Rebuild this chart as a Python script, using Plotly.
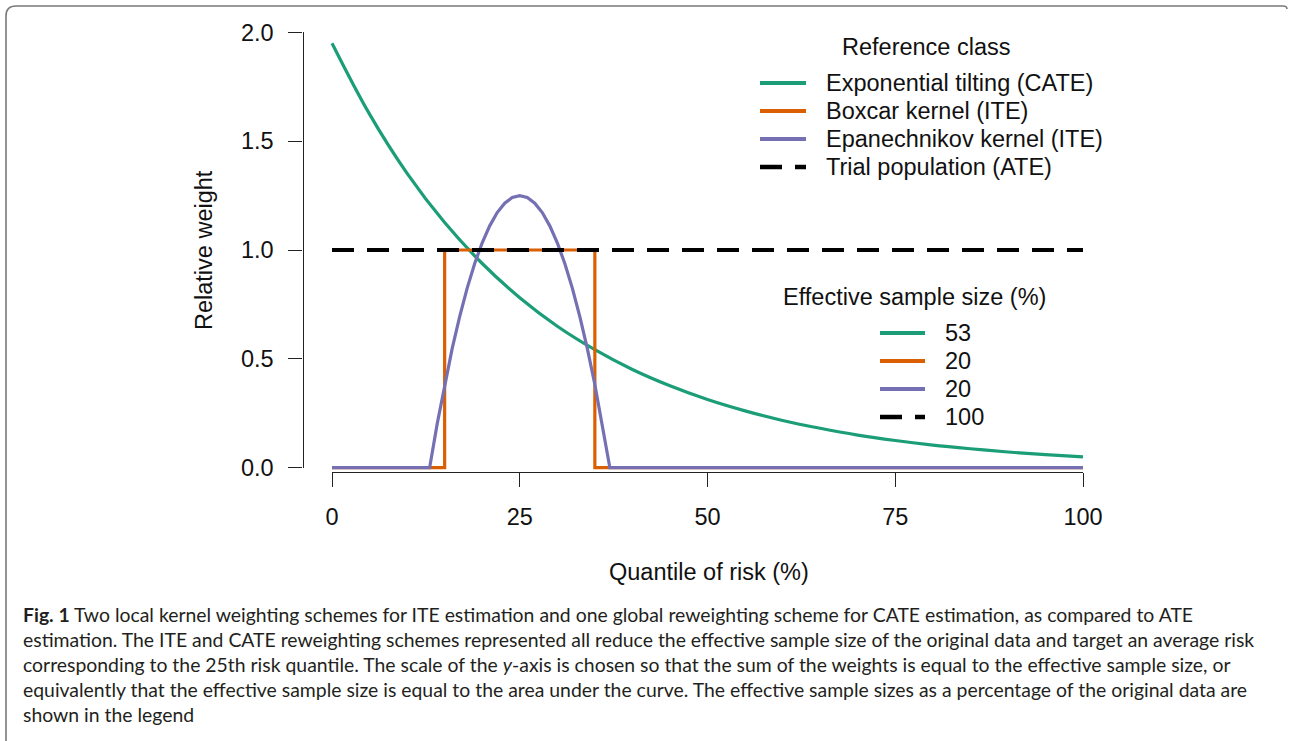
import plotly.graph_objects as go

W, H = 1289, 741

# ---------------- data ----------------
x_tilt = [0, 5, 10, 15, 20, 25, 30, 35, 40, 45, 50, 55, 60, 65, 70, 75, 80, 85, 90, 95, 100]
y_tilt = [1.950, 1.624, 1.352, 1.126, 0.938, 0.781, 0.650, 0.542, 0.451, 0.376, 0.313,
          0.261, 0.217, 0.181, 0.150, 0.125, 0.104, 0.087, 0.072, 0.060, 0.050]

x_box = [0, 15, 15, 35, 35, 100]
y_box = [0, 0, 1, 1, 0, 0]

x_epa = [0, 13, 14, 15, 16, 17, 18, 19, 20, 21, 22, 23, 24, 25,
         26, 27, 28, 29, 30, 31, 32, 33, 34, 35, 36, 37, 100]
y_epa = [0, 0, 0.200, 0.382, 0.547, 0.694, 0.825, 0.938, 1.033, 1.111, 1.172, 1.215, 1.241, 1.250,
         1.241, 1.215, 1.172, 1.111, 1.033, 0.938, 0.825, 0.694, 0.547, 0.382, 0.200, 0, 0]

x_ate = [0, 100]
y_ate = [1, 1]

series_names = ["Exponential tilting (CATE)", "Boxcar kernel (ITE)",
                "Epanechnikov kernel (ITE)", "Trial population (ATE)"]
ess_labels = ["53", "20", "20", "100"]
colors = ["#1b9e77", "#d95f02", "#7570b3", "#000000"]
dashes = ["solid", "solid", "solid", "22px,13px"]

x_ticks = [0, 25, 50, 75, 100]
y_ticks = [0.0, 0.5, 1.0, 1.5, 2.0]

caption_lines = [
    "<b>Fig. 1</b> Two local kernel weighting schemes for ITE estimation and one global reweighting scheme for CATE estimation, as compared to ATE",
    "estimation. The ITE and CATE reweighting schemes represented all reduce the effective sample size of the original data and target an average risk",
    "corresponding to the 25th risk quantile. The scale of the <i>y</i>-axis is chosen so that the sum of the weights is equal to the effective sample size, or",
    "equivalently that the effective sample size is equal to the area under the curve. The effective sample sizes as a percentage of the original data are",
    "shown in the legend",
]

# ---------------- layout geometry (pixels) ----------------
X0PX, X100PX = 332.0, 1083.0      # x = 0 and x = 100
Y0PX, Y2PX = 467.7, 32.3          # y = 0 and y = 2
YAXIS_PX = 302.5                  # detached y axis (R style)
XAXIS_PX = 472.0                  # detached x axis

def fx(px):
    return px / W

def fy(py):
    return 1 - py / H

xpu = (X100PX - X0PX) / 100.0
ypu = (Y0PX - Y2PX) / 2.0
xr = [-1, 101]
yr = [-0.03, 2.03]

FONT = "Liberation Sans, Arial, Helvetica, sans-serif"
TXT = "#111111"
FS = 23.5

fig = go.Figure()
traces = [(x_tilt, y_tilt, "spline"), (x_box, y_box, "linear"),
          (x_epa, y_epa, "linear"), (x_ate, y_ate, "linear")]
for i, (xs, ys, shp) in enumerate(traces):
    fig.add_trace(go.Scatter(
        x=xs, y=ys, mode="lines", name=series_names[i],
        line=dict(color=colors[i], width=3.2 if i < 3 else 4, dash=dashes[i], shape=shp),
        showlegend=False, hoverinfo="skip"))

# invisible trace carrying the displayed (R-style) axes
fig.add_trace(go.Scatter(x=[None], y=[None], xaxis="x2", yaxis="y2",
                         mode="lines", showlegend=False, hoverinfo="skip"))

fig.update_layout(
    width=W, height=H, autosize=False,
    margin=dict(l=0, r=0, t=0, b=0, pad=0, autoexpand=False),
    paper_bgcolor="white", plot_bgcolor="rgba(0,0,0,0)",
    showlegend=False,
    font=dict(family=FONT, size=FS, color=TXT),
    xaxis=dict(range=xr, domain=[fx(X0PX + xr[0] * xpu), fx(X0PX + xr[1] * xpu)],
               visible=False, fixedrange=True, automargin=False),
    yaxis=dict(range=yr, domain=[fy(Y0PX - yr[0] * ypu), fy(Y0PX - yr[1] * ypu)],
               visible=False, fixedrange=True, automargin=False),
    xaxis2=dict(range=[0, 100], domain=[fx(X0PX), fx(X100PX)],
                anchor="free", position=fy(XAXIS_PX), automargin=False,
                showline=True, linecolor="#222222", linewidth=1.4,
                ticks="outside", ticklen=14, tickwidth=1.4, tickcolor="#222222",
                tickvals=x_ticks, ticktext=[str(v) for v in x_ticks],
                ticklabelstandoff=10,
                showgrid=False, zeroline=False, fixedrange=True,
                tickfont=dict(family=FONT, size=FS, color=TXT)),
    yaxis2=dict(range=[0, 2], domain=[fy(Y0PX), fy(Y2PX)],
                anchor="free", position=fx(YAXIS_PX), automargin=False,
                showline=True, linecolor="#222222", linewidth=1.4,
                ticks="outside", ticklen=14, tickwidth=1.4, tickcolor="#222222",
                tickvals=y_ticks, ticktext=[f"{v:.1f}" for v in y_ticks],
                ticklabelstandoff=10,
                showgrid=False, zeroline=False, fixedrange=True,
                tickfont=dict(family=FONT, size=FS, color=TXT)),
)

ann = []
# axis titles
ann.append(dict(text="Relative weight", x=fx(204), y=fy(250), xref="paper", yref="paper",
                showarrow=False, textangle=-90, xanchor="center", yanchor="middle",
                font=dict(family=FONT, size=FS, color=TXT)))
ann.append(dict(text="Quantile of risk (%)", x=fx(709), y=fy(572), xref="paper", yref="paper",
                showarrow=False, xanchor="center", yanchor="middle",
                font=dict(family=FONT, size=FS, color=TXT)))

shapes = []
# legends (R style, drawn in figure space)
def legend_block(title, title_xy, labels, line_x, text_x, rows):
    ann.append(dict(text=title, x=fx(title_xy[0]), y=fy(title_xy[1]), xref="paper", yref="paper",
                    showarrow=False, xanchor="center", yanchor="middle",
                    font=dict(family=FONT, size=FS, color=TXT)))
    for i, lab in enumerate(labels):
        yy = fy(rows[i])
        shapes.append(dict(type="line", xref="paper", yref="paper",
                           x0=fx(line_x[0]), x1=fx(line_x[1]), y0=yy, y1=yy,
                           line=dict(color=colors[i], width=4 if i < 3 else 4.5, dash=dashes[i])))
        ann.append(dict(text=lab, x=fx(text_x), y=yy, xref="paper", yref="paper",
                        showarrow=False, xanchor="left", yanchor="middle",
                        font=dict(family=FONT, size=FS, color=TXT)))

legend_block("Reference class", (926.5, 47), series_names, (760, 806), 824,
             [83, 111, 139, 167])
legend_block("Effective sample size (%)", (914, 297), ess_labels, (880, 925), 943,
             [333, 361, 389, 417])

# caption
CAP_FONT = "Lato, 'Open Sans', sans-serif"
for i, line in enumerate(caption_lines):
    ann.append(dict(text=line, x=fx(21), y=fy(614 + 25 * i), xref="paper", yref="paper",
                    showarrow=False, xanchor="left", yanchor="middle", align="left",
                    font=dict(family=CAP_FONT, size=19.4, color="#231f20")))

# outer frame (top and left border with rounded corner)
shapes.append(dict(type="path", xref="paper", yref="paper",
                   path=f"M {fx(6)},{fy(741)} L {fx(6)},{fy(16)} Q {fx(6)},{fy(6)} {fx(16)},{fy(6)} "
                        f"L {fx(1283)},{fy(6)} Q {fx(1287)},{fy(6)} {fx(1287)},{fy(9)}",
                   line=dict(color="#7a7a7a", width=1.6)))

fig.update_layout(annotations=ann, shapes=shapes)
fig.write_html("out.html", config={"displayModeBar": False},
               post_script="document.body.style.margin='0';document.body.style.overflow='hidden';")
